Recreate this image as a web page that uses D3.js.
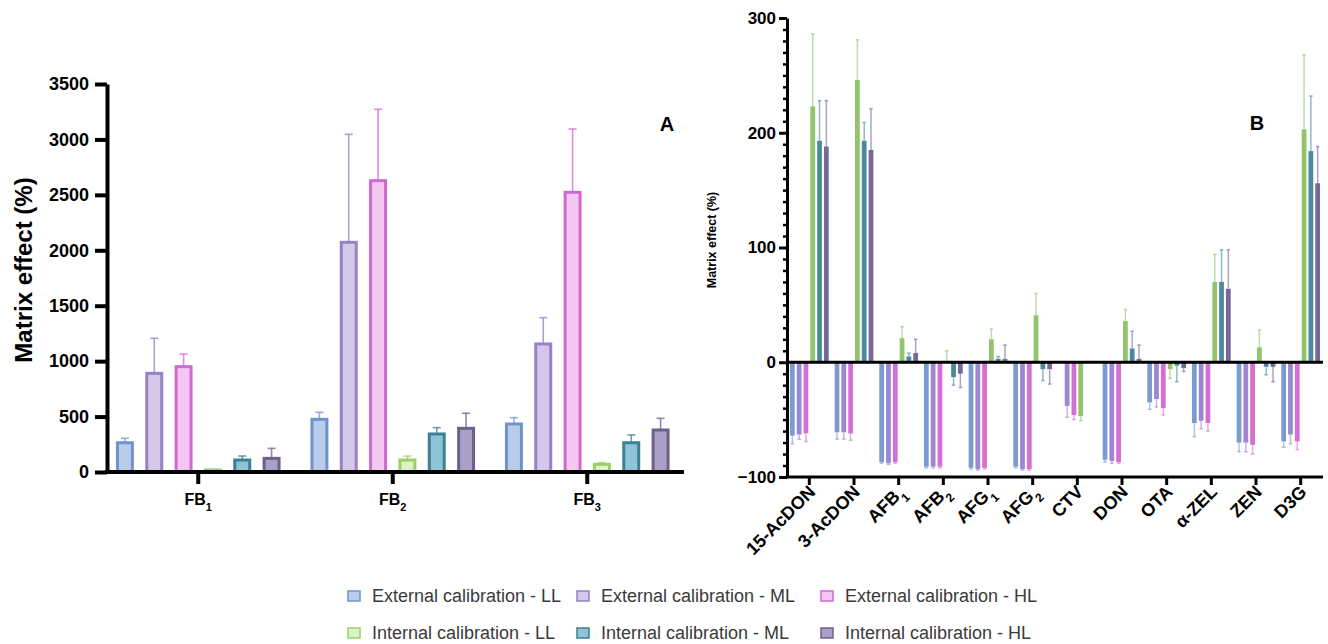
<!DOCTYPE html>
<html>
<head>
<meta charset="utf-8">
<script src="https://cdn.jsdelivr.net/npm/d3@7"></script>
<style>
  body { margin: 0; background: #fff; }
  svg { display: block; font-family: Arial, "Liberation Sans", sans-serif; }
</style>
</head>
<body>
<svg id="chart" width="1328" height="644"></svg>
<script>
// ---- series ----
const seriesKeys = ['extLL', 'extML', 'extHL', 'intLL', 'intML', 'intHL'];
const seriesLabels = [
    'External calibration - LL', 'External calibration - ML', 'External calibration - HL',
    'Internal calibration - LL', 'Internal calibration - ML', 'Internal calibration - HL'
];
const lightFills = ['#b9cdeb', '#d3c7ea', '#f4c7f2', '#def2c8', '#8ec4d7', '#aa9fc6'];
const darkStrokes = ['#6f94cb', '#9781c7', '#d069cf', '#9bcf6b', '#3f7f94', '#6c6189'];
const solidColors = ['#7b9bd1', '#9d86d3', '#d46fd6', '#93c46c', '#4a8aa0', '#77689a'];

// ---- panel A: fumonisins ----
const groupsA = ['FB1', 'FB2', 'FB3'];
const aExtLL = [264, 475, 433];
const aExtLLErr = [40, 63, 57];
const aExtML = [890, 2072, 1155];
const aExtMLErr = [316, 974, 237];
const aExtHL = [950, 2628, 2523];
const aExtHLErr = [114, 644, 571];
const aIntLL = [18, 108, 69];
const aIntLLErr = [4, 36, 15];
const aIntML = [108, 343, 264];
const aIntMLErr = [36, 57, 70];
const aIntHL = [123, 394, 379];
const aIntHLErr = [90, 136, 105];
const ticksA = [0, 500, 1000, 1500, 2000, 2500, 3000, 3500];

// ---- panel B: other mycotoxins ----
const catsB = ['15-AcDON', '3-AcDON', 'AFB1', 'AFB2', 'AFG1', 'AFG2', 'CTV', 'DON', 'OTA', 'α-ZEL', 'ZEN', 'D3G'];
const bExtLL = [-64, -61, -87, -91, -92, -91, null, -85, -35, -53, -70, -69];
const bExtLLErr = [7, 6, 1, 1, 1, 1, null, 2, 6, 12, 8, 5];
const bExtML = [-63, -61, -88, -91, -93, -93, -38, -86, -32, -51, -70, -63];
const bExtMLErr = [4, 6, 1, 1, 1, 1, 10, 2, 7, 7, 8, 8];
const bExtHL = [-62, -62, -87, -91, -92, -93, -46, -87, -40, -53, -72, -69];
const bExtHLErr = [7, 6, 1, 1, 1, 1, 4, 1, 6, 7, 8, 7];
const bIntLL = [223, 246, 21, 1, 20, 41, -47, 36, -6, 70, 13, 203];
const bIntLLErr = [63, 35, 10, 9, 9, 19, 4, 10, 8, 24, 15, 65];
const bIntML = [193, 193, 5, -13, 3, -6, null, 12, -3, 70, -4, 184];
const bIntMLErr = [35, 16, 3, 7, 2, 10, null, 15, 14, 28, 7, 48];
const bIntHL = [188, 185, 8, -10, 3, -6, null, 3, -5, 64, -4, 156];
const bIntHLErr = [40, 36, 12, 12, 12, 13, null, 12, 3, 34, 13, 32];
const ticksB = [-100, 0, 100, 200, 300];

const seriesA = [[aExtLL, aExtLLErr], [aExtML, aExtMLErr], [aExtHL, aExtHLErr],
                 [aIntLL, aIntLLErr], [aIntML, aIntMLErr], [aIntHL, aIntHLErr]];
const seriesB = [[bExtLL, bExtLLErr], [bExtML, bExtMLErr], [bExtHL, bExtHLErr],
                 [bIntLL, bIntLLErr], [bIntML, bIntMLErr], [bIntHL, bIntHLErr]];

const svg = d3.select('#chart');
svg.append('rect').attr('width', 1328).attr('height', 644).attr('fill', '#fff');

// write label with trailing digit as subscript (FB1, AFB2 ...)
function labelWithSub(sel, name, subSize) {
    const m = name.match(/^(FB|AFB|AFG)(\d)$/);
    if (m) {
        sel.append('tspan').text(m[1]);
        sel.append('tspan').attr('baseline-shift', 'sub').style('font-size', subSize).text(m[2]);
    } else {
        sel.text(name);
    }
}

// ================= Panel A =================
const yA = d3.scaleLinear().domain([0, 3500]).range([472, 84]);
const xA = d3.scaleBand().domain(groupsA).range([101, 684.5]);
const xInA = d3.scaleBand().domain(seriesKeys).range([-88, 88]).paddingInner(0.49).paddingOuter(0.245);

const gA = svg.append('g');
groupsA.forEach((grp, gi) => {
    seriesKeys.forEach((key, si) => {
        const v = seriesA[si][0][gi];
        const e = seriesA[si][1][gi];
        const x = xA(grp) + xA.bandwidth() / 2 + xInA(key);
        const cx = x + xInA.bandwidth() / 2;
        // error bar (up only)
        gA.append('line')
            .attr('x1', cx).attr('x2', cx)
            .attr('y1', yA(v)).attr('y2', yA(v + e))
            .attr('stroke', darkStrokes[si]).attr('stroke-opacity', 0.75).attr('stroke-width', 1.6);
        gA.append('line')
            .attr('x1', cx - 4).attr('x2', cx + 4)
            .attr('y1', yA(v + e)).attr('y2', yA(v + e))
            .attr('stroke', darkStrokes[si]).attr('stroke-opacity', 0.75).attr('stroke-width', 1.6);
        gA.append('rect')
            .attr('x', x).attr('y', yA(v))
            .attr('width', xInA.bandwidth())
            .attr('height', yA(0) - yA(v))
            .attr('fill', lightFills[si])
            .attr('stroke', darkStrokes[si])
            .attr('stroke-width', 3);
    });
});

// y axis A
const yAxisA = gA.append('g')
    .attr('transform', 'translate(107,0)')
    .call(d3.axisLeft(yA).tickValues(ticksA).tickFormat(d3.format('d'))
        .tickSize(12).tickSizeOuter(0).tickPadding(6));
yAxisA.select('.domain').attr('stroke-width', 4).attr('stroke', '#000');
yAxisA.selectAll('.tick line').attr('stroke-width', 4).attr('stroke', '#000');
yAxisA.selectAll('.tick text')
    .style('font-size', '18px').style('font-weight', 'bold').attr('fill', '#000')
    .attr('font-family', 'Arial, "Liberation Sans", sans-serif');

// x axis A
const xAxisA = gA.append('g')
    .attr('transform', `translate(0,${yA(0)})`)
    .call(d3.axisBottom(xA).tickSize(12).tickFormat(''));
xAxisA.select('.domain').remove();
xAxisA.selectAll('.tick line').attr('stroke-width', 4).attr('stroke', '#000');
gA.append('line')
    .attr('x1', 105).attr('x2', 684)
    .attr('y1', yA(0)).attr('y2', yA(0))
    .attr('stroke', '#000').attr('stroke-width', 4);
groupsA.forEach(grp => {
    const t = gA.append('text')
        .attr('x', xA(grp) + xA.bandwidth() / 2)
        .attr('y', 505)
        .attr('text-anchor', 'middle')
        .style('font-size', '16px').style('font-weight', 'bold');
    labelWithSub(t, grp, '11px');
});

gA.append('text')
    .attr('transform', 'translate(32,270) rotate(-90)')
    .attr('text-anchor', 'middle')
    .style('font-size', '24px').style('font-weight', 'bold')
    .text('Matrix effect (%)');

gA.append('text')
    .attr('x', 667).attr('y', 131)
    .attr('text-anchor', 'middle')
    .style('font-size', '20px').style('font-weight', 'bold')
    .text('A');

// ================= Panel B =================
const yB = d3.scaleLinear().domain([-100, 300]).range([477, 18]);
const xB = d3.scaleBand().domain(catsB).range([787, 1323]);
const xInB = d3.scaleBand().domain(seriesKeys).range([-20.4, 20.4]).paddingInner(0.3).paddingOuter(0.15);

const gB = svg.append('g');
catsB.forEach((cat, ci) => {
    seriesKeys.forEach((key, si) => {
        const v = seriesB[si][0][ci];
        const e = seriesB[si][1][ci];
        if (v === null) return;
        const x = xB(cat) + xB.bandwidth() / 2 + xInB(key);
        const cx = x + xInB.bandwidth() / 2;
        const dir = v >= 0 ? 1 : -1;
        gB.append('line')
            .attr('x1', cx).attr('x2', cx)
            .attr('y1', yB(v)).attr('y2', yB(v + dir * e))
            .attr('stroke', solidColors[si]).attr('stroke-opacity', 0.6).attr('stroke-width', 1.5);
        gB.append('line')
            .attr('x1', cx - 1.8).attr('x2', cx + 1.8)
            .attr('y1', yB(v + dir * e)).attr('y2', yB(v + dir * e))
            .attr('stroke', solidColors[si]).attr('stroke-opacity', 0.6).attr('stroke-width', 1.5);
        gB.append('rect')
            .attr('x', x)
            .attr('y', Math.min(yB(v), yB(0)))
            .attr('width', xInB.bandwidth())
            .attr('height', Math.abs(yB(v) - yB(0)))
            .attr('fill', solidColors[si]);
    });
});

// zero line
gB.append('line')
    .attr('x1', 787).attr('x2', 1323)
    .attr('y1', yB(0)).attr('y2', yB(0))
    .attr('stroke', '#000').attr('stroke-width', 3);

// y axis B with minor ticks
const minorB = d3.range(-100, 301, 10).filter(d => d % 100 !== 0);
const yMinorB = gB.append('g')
    .attr('transform', 'translate(787,0)')
    .call(d3.axisLeft(yB).tickValues(minorB).tickSize(4).tickFormat(''));
yMinorB.select('.domain').remove();
yMinorB.selectAll('.tick line').attr('stroke-width', 2.5).attr('stroke', '#000');

const yAxisB = gB.append('g')
    .attr('transform', 'translate(787,0)')
    .call(d3.axisLeft(yB).tickValues(ticksB).tickSize(8).tickSizeOuter(0).tickPadding(3));
yAxisB.select('.domain').attr('stroke-width', 3).attr('stroke', '#000');
yAxisB.selectAll('.tick line').attr('stroke-width', 3).attr('stroke', '#000');
yAxisB.selectAll('.tick text')
    .style('font-size', '17px').style('font-weight', 'bold').attr('fill', '#000')
    .attr('font-family', 'Arial, "Liberation Sans", sans-serif');

// x axis B
const xAxisB = gB.append('g')
    .attr('transform', `translate(0,${yB(-100)})`)
    .call(d3.axisBottom(xB).tickSize(8).tickFormat(''));
xAxisB.select('.domain').remove();
xAxisB.selectAll('.tick line').attr('stroke-width', 3).attr('stroke', '#000');
gB.append('line')
    .attr('x1', 785.5).attr('x2', 1323)
    .attr('y1', yB(-100)).attr('y2', yB(-100))
    .attr('stroke', '#000').attr('stroke-width', 3);
catsB.forEach(cat => {
    const cx = xB(cat) + xB.bandwidth() / 2;
    const t = gB.append('text')
        .attr('transform', `translate(${cx + 7},${yB(-100) + 16}) rotate(-45)`)
        .attr('text-anchor', 'end')
        .style('font-size', '18px').style('font-weight', 'bold');
    labelWithSub(t, cat, '12px');
});

gB.append('text')
    .attr('transform', 'translate(716,240) rotate(-90)')
    .attr('text-anchor', 'middle')
    .style('font-size', '12.5px').style('font-weight', 'bold')
    .text('Matrix effect (%)');

gB.append('text')
    .attr('x', 1257).attr('y', 130)
    .attr('text-anchor', 'middle')
    .style('font-size', '20px').style('font-weight', 'bold')
    .text('B');

// ================= Legend =================
const legendX = [348, 577, 821];
const legendY = [596, 633];
const gL = svg.append('g');
seriesKeys.forEach((key, si) => {
    const lx = legendX[si % 3];
    const ly = legendY[Math.floor(si / 3)];
    gL.append('rect')
        .attr('x', lx).attr('y', ly - 5)
        .attr('width', 12).attr('height', 10)
        .attr('fill', lightFills[si])
        .attr('stroke', darkStrokes[si])
        .attr('stroke-width', 1.5);
    gL.append('text')
        .attr('x', lx + 24).attr('y', ly)
        .attr('dy', '0.35em')
        .style('font-size', '18px')
        .attr('fill', '#3a3a3a')
        .text(seriesLabels[si]);
});
</script>
</body>
</html>
